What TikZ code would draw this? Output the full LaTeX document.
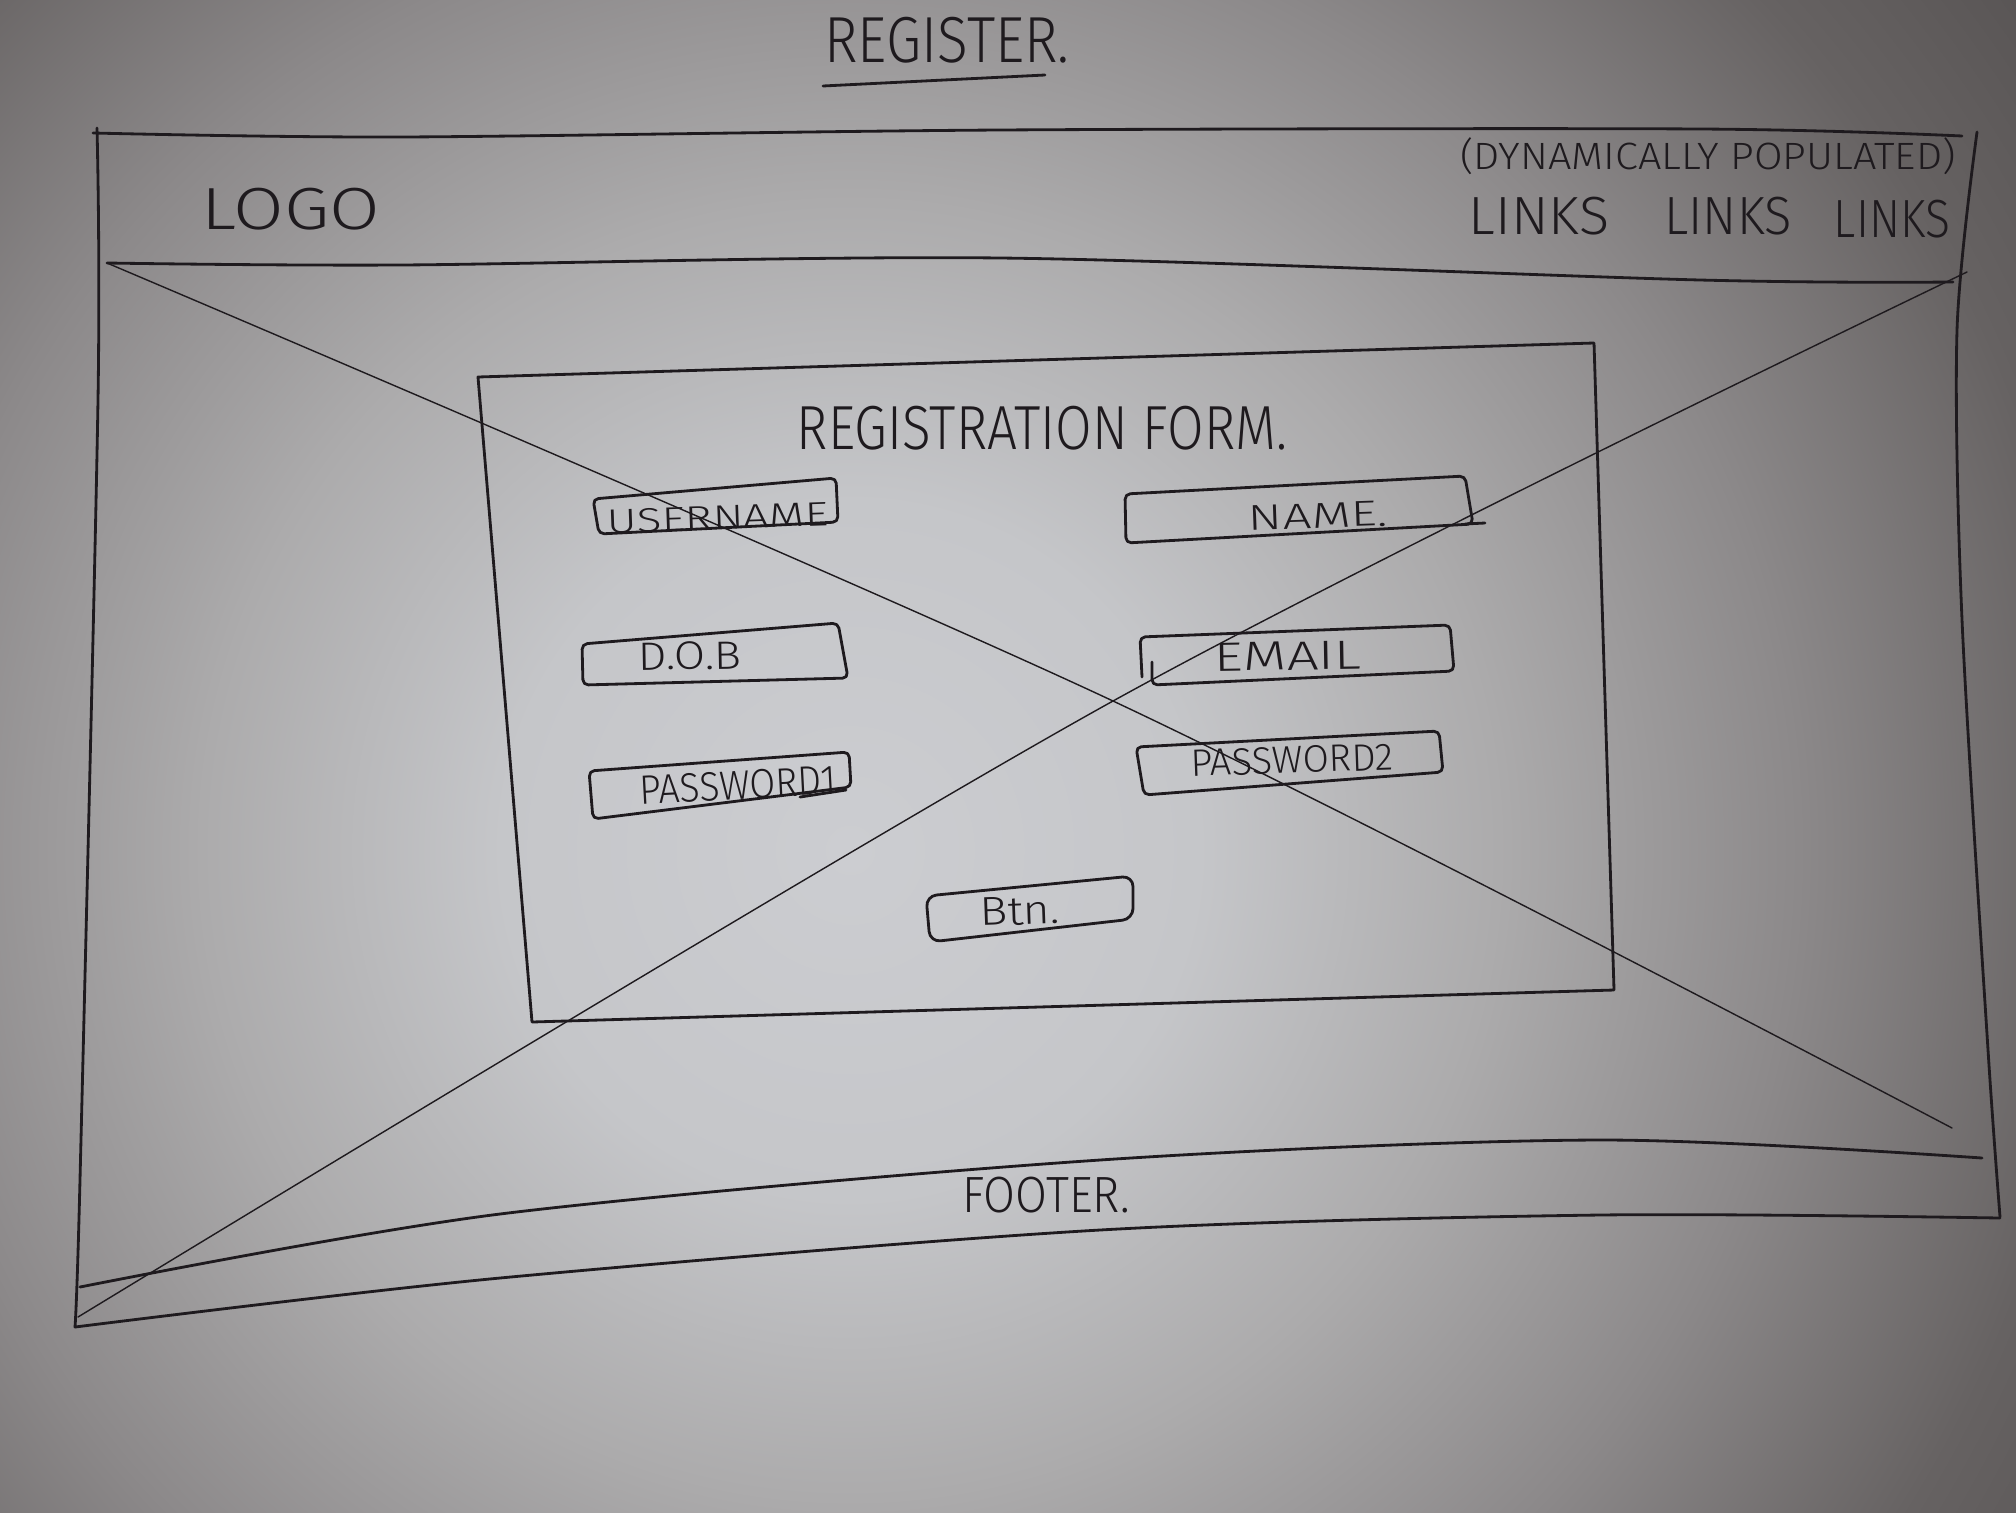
\documentclass[tikz,border=0pt]{standalone}
\usepackage{graphicx}
\usepackage{fontspec}
\newfontfamily\handfont{Fira Sans Light}

% ink and paper tones
\definecolor{ink}{RGB}{30,26,30}
\definecolor{paperhi}{RGB}{204,205,209}
\definecolor{paperhitwo}{RGB}{197,198,201}
\definecolor{papermid}{RGB}{172,171,172}
\definecolor{paperlow}{RGB}{140,137,138}
\definecolor{paperdim}{RGB}{102,98,98}
\definecolor{paperedge}{RGB}{86,82,82}

% radial falloff of the lit sheet (25bp = radius of the shaded circle)
\pgfdeclareradialshading{paper}{\pgfpoint{0bp}{0bp}}{%
  color(0bp)=(paperhi); color(5.8bp)=(paperhitwo); color(10.8bp)=(papermid);
  color(15.8bp)=(paperlow); color(20.8bp)=(paperdim); color(25bp)=(paperedge);
  color(50bp)=(paperedge)}

% scale a hand-lettered label to a given width and height
\newcommand{\lettered}[3]{\resizebox*{#1}{#2}{\handfont #3}}

\tikzset{
  pen/.style={draw=ink, line width=0.8pt, line cap=round, line join=round},
  fine/.style={draw=ink, line width=0.4pt, line cap=round},
  field/.style={pen, rounded corners=1.5pt},
  label/.style={text=ink, inner sep=0pt, outer sep=0pt},
}

\begin{document}
\begin{tikzpicture}[x=0.01cm, y=-0.01cm]
\useasboundingbox (0,0) rectangle (2016,1512);

% sheet of paper
\fill[paperedge] (0,0) rectangle (2016,1512);
\begin{scope}
  \clip (0,0) rectangle (2016,1512);
  \shade[shading=paper] (850,850) circle[radius=15cm];
\end{scope}

% page title
\node[label] (title) at (947,40) {\lettered{24.5mm}{4.6mm}{REGISTER.}};
\coordinate (ulA) at (823,86);
\coordinate (ulB) at (1045,75);
\draw[pen] (ulA) -- (ulB);

% outer page frame
\draw[pen] plot[smooth, tension=0.5] coordinates {(93,133) (400,137) (1000,130) (1700,129) (1962,136)};
\draw[pen] plot[smooth, tension=0.5] coordinates {(97,128) (98,400) (80,1180) (75,1327)};
\draw[pen] plot[smooth, tension=0.5] coordinates {(1977,132) (1957,330) (1962,620) (1988,1050) (2000,1217)};

% header band
\draw[pen] plot[smooth, tension=0.5] coordinates {(107,263) (400,265) (1000,258) (1700,280) (1953,282)};
\node[label] (logo) at (291,209) {\lettered{17.8mm}{4.2mm}{LOGO}};
\node[label] (dynnote) at (1708,156) {\lettered{49.5mm}{3.7mm}{(DYNAMICALLY POPULATED)}};
\node[label] (links1) at (1539,216) {\lettered{14.0mm}{3.8mm}{LINKS}};
\node[label] (links2) at (1728,216) {\lettered{12.7mm}{3.8mm}{LINKS}};
\node[label] (links3) at (1892,219) {\lettered{11.6mm}{3.8mm}{LINKS}};

% footer band
\draw[pen] plot[smooth, tension=0.5] coordinates {(80,1287) (500,1214) (1100,1160) (1600,1140) (1982,1158)};
\draw[pen] plot[smooth, tension=0.5] coordinates {(75,1327) (500,1278) (1100,1230) (1600,1215) (2000,1218)};
\node[label] (footer) at (1046,1195) {\lettered{16.7mm}{3.6mm}{FOOTER.}};

% image placeholder cross over the content area
\draw[fine] plot[smooth, tension=0.5] coordinates {(107,263) (1113,701) (1952,1128)};
\draw[fine] plot[smooth, tension=0.5] coordinates {(1967,272) (1113,701) (78,1317)};

% registration form panel
\draw[pen] (478,377) -- (1594,343) -- (1614,990) -- (532,1022) -- cycle;
\node[label] (formtitle) at (1042,428) {\lettered{49.0mm}{4.4mm}{REGISTRATION FORM.}};

% input fields
\draw[field] (593,499) -- (836,478) -- (838,522) -- (599,534) -- cycle;
\node[label, rotate=2] (fusername) at (718,518) {\lettered{22.1mm}{2.4mm}{USERNAME}};

\draw[field] (1125,494) -- (1465,476) -- (1473,524) -- (1126,543) -- cycle;
\draw[pen] (1465,524) -- (1485,523);
\node[label, rotate=2] (fname) at (1318,516) {\lettered{13.9mm}{2.5mm}{NAME.}};

\draw[field] (582,644) -- (838,623) -- (848,678) -- (583,685) -- cycle;
\node[label, rotate=1] (fdob) at (690,656) {\lettered{10.3mm}{2.8mm}{D.O.B}};

\draw[field] (1142,677) -- (1140,637) -- (1450,625) -- (1454,671) -- (1152,685) -- (1152,662);
\node[label, rotate=1] (femail) at (1288,656) {\lettered{14.7mm}{2.8mm}{EMAIL}};

\draw[field] (589,771) -- (849,752) -- (851,787) -- (593,819) -- cycle;
\draw[pen] (800,797) -- (846,790);
\node[label, rotate=3] (fpass1) at (738,785) {\lettered{19.7mm}{2.9mm}{PASSWORD1}};

\draw[field] (1136,747) -- (1439,731) -- (1443,772) -- (1144,795) -- cycle;
\node[label, rotate=2] (fpass2) at (1292,760) {\lettered{20.2mm}{2.7mm}{PASSWORD2}};

% submit button
\draw[field, rounded corners=3pt] (926,896) -- (1133,876) -- (1133,919) -- (930,942) -- cycle;
\node[label, rotate=2] (fbtn) at (1020,911) {\lettered{8.0mm}{2.8mm}{Btn.}};

\end{tikzpicture}
\end{document}
